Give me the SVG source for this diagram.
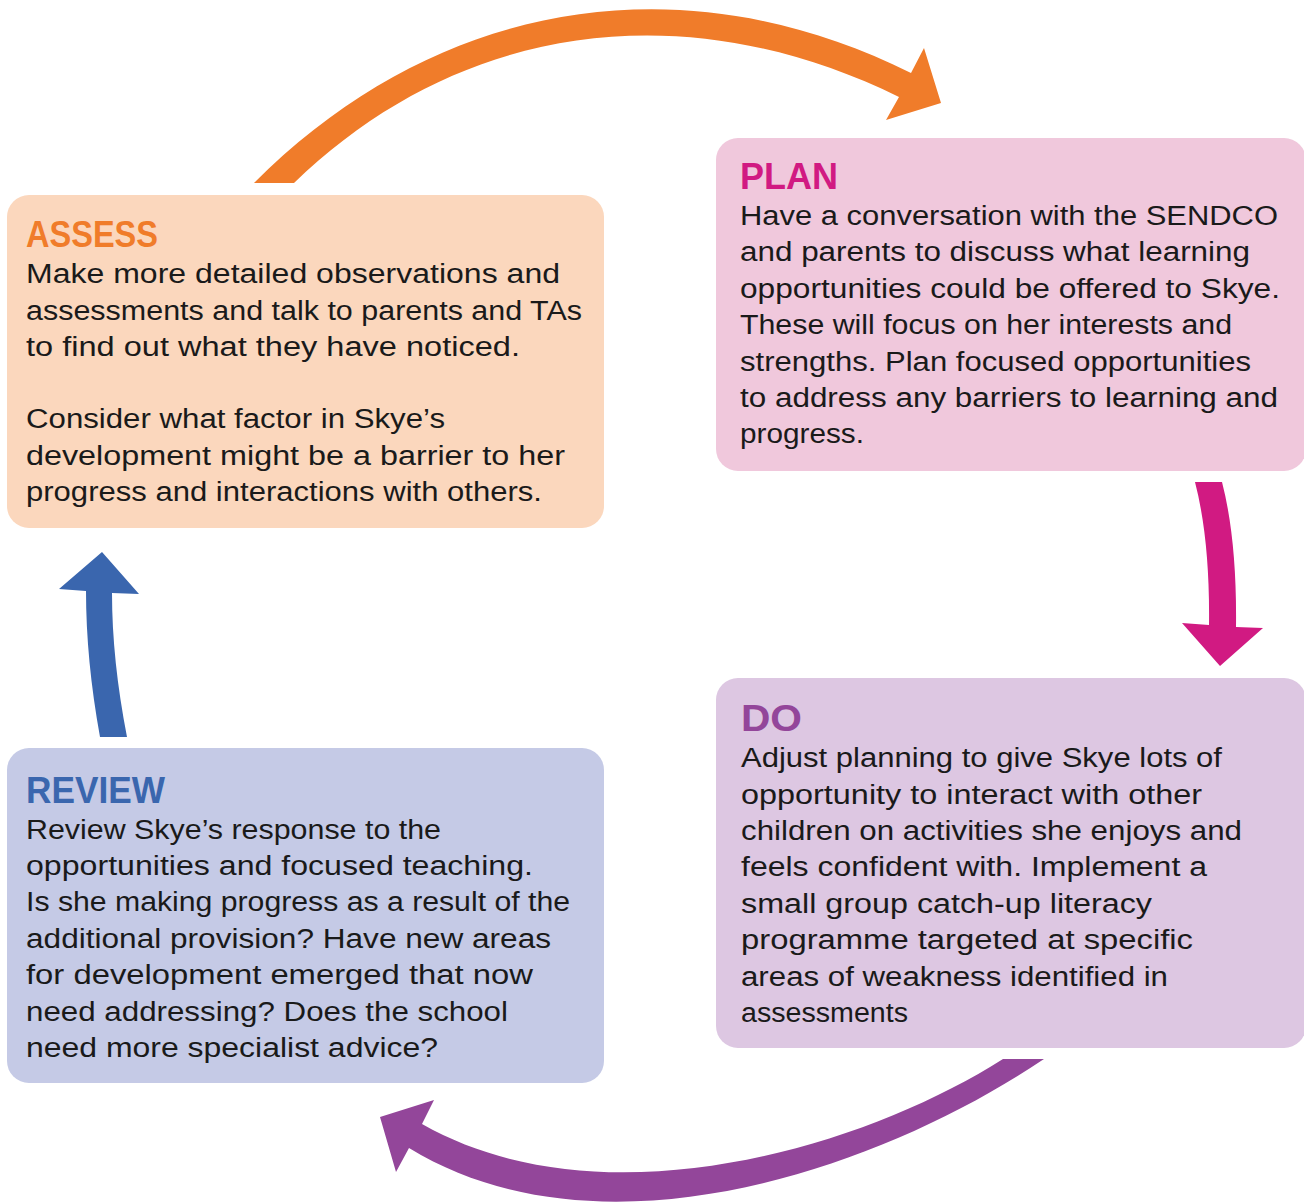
<svg xmlns="http://www.w3.org/2000/svg" width="1304" height="1202" viewBox="0 0 1304 1202">
<style>
.body{font-family:"Liberation Sans","DejaVu Sans",sans-serif;font-size:27px;fill:#1a1a1a}
.title{font-family:"Liberation Sans","DejaVu Sans",sans-serif;font-size:36px;font-weight:bold}
</style>
<rect width="1304" height="1202" fill="#ffffff"/>
<g id="connectors">
<path id="arrow-assess-plan" fill="#F07C2A" d="M254,183 C444,-7 691,-37 911,73 L924,48 L941,103 L886,120 L899,97 C685,-8 460,22 294,183 Z"/>
<path id="arrow-plan-do" fill="#D11A82" d="M1195,482 L1222,482 Q1237,540 1236,627 L1263,628 L1220,666 L1182,623 L1209,625 Q1210,540 1195,482 Z"/>
<path id="arrow-do-review" fill="#93469A" d="M1044,1059 C880,1170 600,1265 409,1148 L396,1172 L380,1117 L434,1100 L422,1124 C600,1225 860,1150 1003,1059 Z"/>
<path id="arrow-review-assess" fill="#3A66AE" d="M100,737 Q86,660 86,591 L59,589 L102,552 L139,594 L112,593 Q112,660 127,737 Z"/>
</g>
<g id="assess">
<rect x="7" y="195" width="597" height="333" rx="22" fill="#FBD7BD"/>
<text class="title" x="26" y="247" fill="#F07C2A" textLength="132" lengthAdjust="spacingAndGlyphs">ASSESS</text>
<text class="body" x="26" y="283" textLength="534" lengthAdjust="spacingAndGlyphs">Make more detailed observations and</text>
<text class="body" x="26" y="320" textLength="556" lengthAdjust="spacingAndGlyphs">assessments and talk to parents and TAs</text>
<text class="body" x="26" y="356" textLength="494" lengthAdjust="spacingAndGlyphs">to find out what they have noticed.</text>
<text class="body" x="26" y="428" textLength="419" lengthAdjust="spacingAndGlyphs">Consider what factor in Skye’s</text>
<text class="body" x="26" y="465" textLength="539" lengthAdjust="spacingAndGlyphs">development might be a barrier to her</text>
<text class="body" x="26" y="501" textLength="516" lengthAdjust="spacingAndGlyphs">progress and interactions with others.</text>
</g>
<g id="plan">
<rect x="716" y="138" width="590" height="333" rx="22" fill="#F0C8DC"/>
<text class="title" x="740" y="189" fill="#D11A82" textLength="98" lengthAdjust="spacingAndGlyphs">PLAN</text>
<text class="body" x="740" y="225" textLength="538" lengthAdjust="spacingAndGlyphs">Have a conversation with the SENDCO</text>
<text class="body" x="740" y="261" textLength="510" lengthAdjust="spacingAndGlyphs">and parents to discuss what learning</text>
<text class="body" x="740" y="298" textLength="540" lengthAdjust="spacingAndGlyphs">opportunities could be offered to Skye.</text>
<text class="body" x="740" y="334" textLength="492" lengthAdjust="spacingAndGlyphs">These will focus on her interests and</text>
<text class="body" x="740" y="371" textLength="511" lengthAdjust="spacingAndGlyphs">strengths. Plan focused opportunities</text>
<text class="body" x="740" y="407" textLength="538" lengthAdjust="spacingAndGlyphs">to address any barriers to learning and</text>
<text class="body" x="740" y="443" textLength="124" lengthAdjust="spacingAndGlyphs">progress.</text>
</g>
<g id="do">
<rect x="716" y="678" width="590" height="370" rx="22" fill="#DDC7E2"/>
<text class="title" x="741" y="731" fill="#93469A" textLength="61" lengthAdjust="spacingAndGlyphs">DO</text>
<text class="body" x="741" y="767" textLength="481" lengthAdjust="spacingAndGlyphs">Adjust planning to give Skye lots of</text>
<text class="body" x="741" y="804" textLength="461" lengthAdjust="spacingAndGlyphs">opportunity to interact with other</text>
<text class="body" x="741" y="840" textLength="501" lengthAdjust="spacingAndGlyphs">children on activities she enjoys and</text>
<text class="body" x="741" y="876" textLength="466" lengthAdjust="spacingAndGlyphs">feels confident with. Implement a</text>
<text class="body" x="741" y="913" textLength="411" lengthAdjust="spacingAndGlyphs">small group catch-up literacy</text>
<text class="body" x="741" y="949" textLength="452" lengthAdjust="spacingAndGlyphs">programme targeted at specific</text>
<text class="body" x="741" y="986" textLength="427" lengthAdjust="spacingAndGlyphs">areas of weakness identified in</text>
<text class="body" x="741" y="1022" textLength="167" lengthAdjust="spacingAndGlyphs">assessments</text>
</g>
<g id="review">
<rect x="7" y="748" width="597" height="335" rx="22" fill="#C5CAE6"/>
<text class="title" x="26" y="803" fill="#3A66AE" textLength="139" lengthAdjust="spacingAndGlyphs">REVIEW</text>
<text class="body" x="26" y="839" textLength="415" lengthAdjust="spacingAndGlyphs">Review Skye’s response to the</text>
<text class="body" x="26" y="875" textLength="507" lengthAdjust="spacingAndGlyphs">opportunities and focused teaching.</text>
<text class="body" x="26" y="911" textLength="544" lengthAdjust="spacingAndGlyphs">Is she making progress as a result of the</text>
<text class="body" x="26" y="948" textLength="525" lengthAdjust="spacingAndGlyphs">additional provision? Have new areas</text>
<text class="body" x="26" y="984" textLength="507" lengthAdjust="spacingAndGlyphs">for development emerged that now</text>
<text class="body" x="26" y="1021" textLength="482" lengthAdjust="spacingAndGlyphs">need addressing? Does the school</text>
<text class="body" x="26" y="1057" textLength="412" lengthAdjust="spacingAndGlyphs">need more specialist advice?</text>
</g>
</svg>
